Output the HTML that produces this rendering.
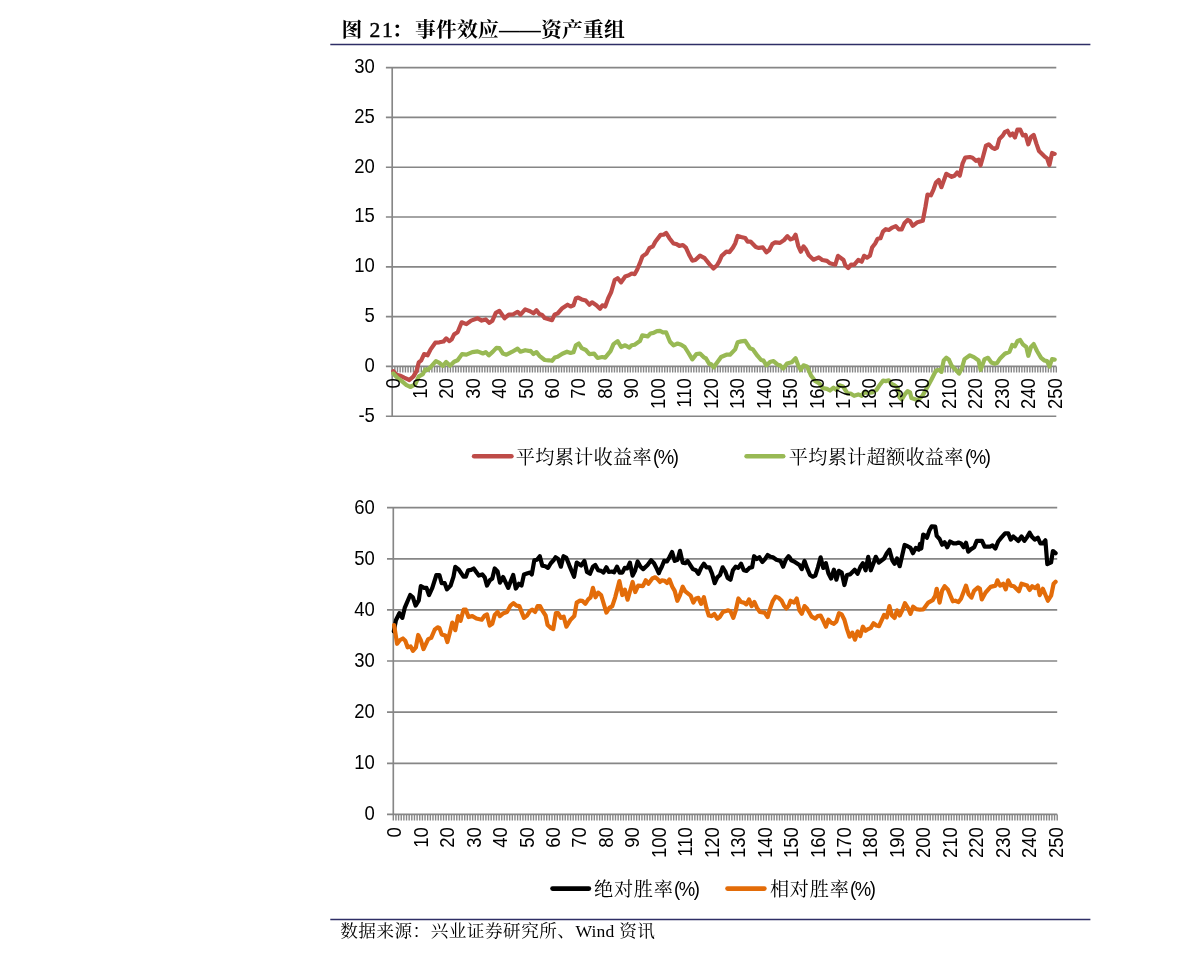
<!DOCTYPE html>
<html lang="zh-CN">
<head>
<meta charset="utf-8">
<title>图 21：事件效应——资产重组</title>
<style>
html,body{margin:0;padding:0;background:#fff;}
body{width:1191px;height:961px;position:relative;overflow:hidden;font-family:"Liberation Sans","Noto Sans CJK SC",sans-serif;color:#000;}
.title{position:absolute;left:341.6px;top:16.2px;height:28px;line-height:28px;font-family:"Liberation Serif","Noto Serif CJK SC",serif;font-weight:700;font-size:20.8px;letter-spacing:0.2px;white-space:nowrap;}
.title .n{font-weight:400;font-size:21.6px;letter-spacing:1.6px;margin-left:1.5px;-webkit-text-stroke:0.45px #000;}
.title .c{margin-left:-2.6px;margin-right:2.4px;}
.src{position:absolute;left:340.2px;top:919px;letter-spacing:0.5px;height:24px;line-height:24px;font-family:"Liberation Serif","Noto Serif CJK SC",serif;font-size:17.6px;white-space:nowrap;}
svg.charts{position:absolute;left:0;top:0;}
svg .ax text{font-family:"Liberation Sans",sans-serif;font-size:20px;fill:#000;}
.lg{position:absolute;height:26px;line-height:26px;font-family:"Liberation Serif","Noto Serif CJK SC",serif;font-size:19.2px;letter-spacing:0.25px;white-space:nowrap;}
.lg span{display:inline-block;font-family:"Liberation Sans",sans-serif;font-size:20px;letter-spacing:-1.5px;transform:scale(0.925,1);transform-origin:0 50%;margin-left:1.5px;position:relative;top:0.3px;}
.lg.l2{letter-spacing:0.75px;}
.lg.l2 span{margin-left:0.4px;}
.src .w{letter-spacing:0.2px;}
</style>
</head>
<body>
<div class="title">图 <span class="n">21</span><span class="c">：</span>事件效应——资产重组</div>
<svg class="charts" width="1191" height="961" viewBox="0 0 1191 961">
<path d="M330.3,44.55H1090.4M330.3,919.55H1090.4" stroke="#2e2e66" stroke-width="1.45" fill="none"/>
<path d="M385.9,416.2H1056.3M385.9,366.4H1056.3M385.9,316.6H1056.3M385.9,266.8H1056.3M385.9,217.0H1056.3M385.9,167.2H1056.3M385.9,117.4H1056.3M385.9,67.6H1056.3" stroke="#868686" stroke-width="1.65" fill="none"/>
<path d="M392.2,67.6V416.2" stroke="#868686" stroke-width="1.65" fill="none"/>
<path d="M392.20,366.4v6.2M394.85,366.4v6.2M397.49,366.4v6.2M400.14,366.4v6.2M402.78,366.4v6.2M405.43,366.4v6.2M408.07,366.4v6.2M410.72,366.4v6.2M413.37,366.4v6.2M416.01,366.4v6.2M418.66,366.4v6.2M421.30,366.4v6.2M423.95,366.4v6.2M426.60,366.4v6.2M429.24,366.4v6.2M431.89,366.4v6.2M434.53,366.4v6.2M437.18,366.4v6.2M439.82,366.4v6.2M442.47,366.4v6.2M445.12,366.4v6.2M447.76,366.4v6.2M450.41,366.4v6.2M453.05,366.4v6.2M455.70,366.4v6.2M458.35,366.4v6.2M460.99,366.4v6.2M463.64,366.4v6.2M466.28,366.4v6.2M468.93,366.4v6.2M471.57,366.4v6.2M474.22,366.4v6.2M476.87,366.4v6.2M479.51,366.4v6.2M482.16,366.4v6.2M484.80,366.4v6.2M487.45,366.4v6.2M490.10,366.4v6.2M492.74,366.4v6.2M495.39,366.4v6.2M498.03,366.4v6.2M500.68,366.4v6.2M503.32,366.4v6.2M505.97,366.4v6.2M508.62,366.4v6.2M511.26,366.4v6.2M513.91,366.4v6.2M516.55,366.4v6.2M519.20,366.4v6.2M521.85,366.4v6.2M524.49,366.4v6.2M527.14,366.4v6.2M529.78,366.4v6.2M532.43,366.4v6.2M535.07,366.4v6.2M537.72,366.4v6.2M540.37,366.4v6.2M543.01,366.4v6.2M545.66,366.4v6.2M548.30,366.4v6.2M550.95,366.4v6.2M553.59,366.4v6.2M556.24,366.4v6.2M558.89,366.4v6.2M561.53,366.4v6.2M564.18,366.4v6.2M566.82,366.4v6.2M569.47,366.4v6.2M572.12,366.4v6.2M574.76,366.4v6.2M577.41,366.4v6.2M580.05,366.4v6.2M582.70,366.4v6.2M585.34,366.4v6.2M587.99,366.4v6.2M590.64,366.4v6.2M593.28,366.4v6.2M595.93,366.4v6.2M598.57,366.4v6.2M601.22,366.4v6.2M603.87,366.4v6.2M606.51,366.4v6.2M609.16,366.4v6.2M611.80,366.4v6.2M614.45,366.4v6.2M617.09,366.4v6.2M619.74,366.4v6.2M622.39,366.4v6.2M625.03,366.4v6.2M627.68,366.4v6.2M630.32,366.4v6.2M632.97,366.4v6.2M635.62,366.4v6.2M638.26,366.4v6.2M640.91,366.4v6.2M643.55,366.4v6.2M646.20,366.4v6.2M648.84,366.4v6.2M651.49,366.4v6.2M654.14,366.4v6.2M656.78,366.4v6.2M659.43,366.4v6.2M662.07,366.4v6.2M664.72,366.4v6.2M667.36,366.4v6.2M670.01,366.4v6.2M672.66,366.4v6.2M675.30,366.4v6.2M677.95,366.4v6.2M680.59,366.4v6.2M683.24,366.4v6.2M685.89,366.4v6.2M688.53,366.4v6.2M691.18,366.4v6.2M693.82,366.4v6.2M696.47,366.4v6.2M699.11,366.4v6.2M701.76,366.4v6.2M704.41,366.4v6.2M707.05,366.4v6.2M709.70,366.4v6.2M712.34,366.4v6.2M714.99,366.4v6.2M717.64,366.4v6.2M720.28,366.4v6.2M722.93,366.4v6.2M725.57,366.4v6.2M728.22,366.4v6.2M730.86,366.4v6.2M733.51,366.4v6.2M736.16,366.4v6.2M738.80,366.4v6.2M741.45,366.4v6.2M744.09,366.4v6.2M746.74,366.4v6.2M749.39,366.4v6.2M752.03,366.4v6.2M754.68,366.4v6.2M757.32,366.4v6.2M759.97,366.4v6.2M762.61,366.4v6.2M765.26,366.4v6.2M767.91,366.4v6.2M770.55,366.4v6.2M773.20,366.4v6.2M775.84,366.4v6.2M778.49,366.4v6.2M781.14,366.4v6.2M783.78,366.4v6.2M786.43,366.4v6.2M789.07,366.4v6.2M791.72,366.4v6.2M794.36,366.4v6.2M797.01,366.4v6.2M799.66,366.4v6.2M802.30,366.4v6.2M804.95,366.4v6.2M807.59,366.4v6.2M810.24,366.4v6.2M812.88,366.4v6.2M815.53,366.4v6.2M818.18,366.4v6.2M820.82,366.4v6.2M823.47,366.4v6.2M826.11,366.4v6.2M828.76,366.4v6.2M831.41,366.4v6.2M834.05,366.4v6.2M836.70,366.4v6.2M839.34,366.4v6.2M841.99,366.4v6.2M844.63,366.4v6.2M847.28,366.4v6.2M849.93,366.4v6.2M852.57,366.4v6.2M855.22,366.4v6.2M857.86,366.4v6.2M860.51,366.4v6.2M863.16,366.4v6.2M865.80,366.4v6.2M868.45,366.4v6.2M871.09,366.4v6.2M873.74,366.4v6.2M876.38,366.4v6.2M879.03,366.4v6.2M881.68,366.4v6.2M884.32,366.4v6.2M886.97,366.4v6.2M889.61,366.4v6.2M892.26,366.4v6.2M894.91,366.4v6.2M897.55,366.4v6.2M900.20,366.4v6.2M902.84,366.4v6.2M905.49,366.4v6.2M908.13,366.4v6.2M910.78,366.4v6.2M913.43,366.4v6.2M916.07,366.4v6.2M918.72,366.4v6.2M921.36,366.4v6.2M924.01,366.4v6.2M926.65,366.4v6.2M929.30,366.4v6.2M931.95,366.4v6.2M934.59,366.4v6.2M937.24,366.4v6.2M939.88,366.4v6.2M942.53,366.4v6.2M945.18,366.4v6.2M947.82,366.4v6.2M950.47,366.4v6.2M953.11,366.4v6.2M955.76,366.4v6.2M958.40,366.4v6.2M961.05,366.4v6.2M963.70,366.4v6.2M966.34,366.4v6.2M968.99,366.4v6.2M971.63,366.4v6.2M974.28,366.4v6.2M976.93,366.4v6.2M979.57,366.4v6.2M982.22,366.4v6.2M984.86,366.4v6.2M987.51,366.4v6.2M990.15,366.4v6.2M992.80,366.4v6.2M995.45,366.4v6.2M998.09,366.4v6.2M1000.74,366.4v6.2M1003.38,366.4v6.2M1006.03,366.4v6.2M1008.68,366.4v6.2M1011.32,366.4v6.2M1013.97,366.4v6.2M1016.61,366.4v6.2M1019.26,366.4v6.2M1021.90,366.4v6.2M1024.55,366.4v6.2M1027.20,366.4v6.2M1029.84,366.4v6.2M1032.49,366.4v6.2M1035.13,366.4v6.2M1037.78,366.4v6.2M1040.43,366.4v6.2M1043.07,366.4v6.2M1045.72,366.4v6.2M1048.36,366.4v6.2M1051.01,366.4v6.2M1053.65,366.4v6.2M1056.30,366.4v6.2" stroke="#868686" stroke-width="1.4" fill="none"/>
<g class="ax" text-anchor="end">
<text transform="translate(374.9,421.6) scale(0.925,1)">-5</text>
<text transform="translate(374.9,371.8) scale(0.925,1)">0</text>
<text transform="translate(374.9,322.0) scale(0.925,1)">5</text>
<text transform="translate(374.9,272.2) scale(0.925,1)">10</text>
<text transform="translate(374.9,222.4) scale(0.925,1)">15</text>
<text transform="translate(374.9,172.6) scale(0.925,1)">20</text>
<text transform="translate(374.9,122.8) scale(0.925,1)">25</text>
<text transform="translate(374.9,73.0) scale(0.925,1)">30</text>
</g>
<path d="M393.3,371.1 L396.5,374.9 L400.6,375.8 L404.1,377.6 L409.4,380.0 L413.5,376.4 L416.5,371.1 L418.8,362.3 L421.2,360.3 L424.1,354.1 L427.6,355.3 L430.6,349.4 L435.3,342.7 L439.4,342.3 L443.5,341.5 L446.2,338.4 L449.4,341.1 L451.7,339.4 L454.1,334.4 L457.6,332.3 L461.7,322.3 L466.4,324.1 L471.1,320.6 L477.6,318.2 L481.7,320.6 L485.8,319.4 L489.4,322.9 L492.3,320.8 L495.8,312.9 L499.4,310.9 L504.6,318.2 L508.8,314.7 L512.9,314.5 L517.6,311.8 L520.5,314.7 L525.2,309.4 L530.0,311.2 L533.5,313.3 L536.5,310.2 L539.4,314.1 L541.8,314.7 L544.7,318.0 L548.8,319.2 L552.0,320.2 L554.7,314.4 L557.6,313.5 L562.3,308.2 L567.6,304.7 L570.6,306.5 L573.5,305.3 L575.9,298.2 L578.2,297.6 L581.7,299.4 L585.8,300.6 L589.4,304.7 L592.0,302.3 L596.4,305.3 L600.0,308.8 L602.3,305.3 L605.2,306.5 L608.2,298.2 L611.1,292.3 L614.7,280.0 L617.6,278.2 L621.1,282.3 L625.2,276.5 L628.8,275.3 L631.7,273.5 L634.6,274.1 L637.0,270.0 L640.0,262.9 L642.4,256.4 L646.5,253.5 L649.4,248.2 L652.9,246.4 L655.3,241.7 L660.6,234.9 L663.5,234.7 L666.1,232.9 L669.4,238.2 L673.5,243.5 L676.5,244.1 L679.4,245.9 L682.9,245.0 L685.9,247.6 L689.4,255.3 L692.3,260.6 L695.3,260.0 L700.0,255.6 L704.7,258.2 L709.4,264.1 L713.5,268.5 L717.0,265.3 L719.4,261.1 L721.7,255.8 L726.4,251.7 L729.4,252.1 L732.9,247.6 L735.2,243.5 L737.6,235.9 L741.1,237.0 L745.2,238.0 L747.6,241.7 L750.5,241.5 L755.8,247.0 L758.8,247.9 L762.9,247.4 L766.4,252.3 L769.3,250.0 L772.3,244.1 L775.2,242.3 L780.0,242.9 L784.1,240.0 L787.4,236.2 L790.6,239.4 L793.5,238.2 L795.6,234.7 L798.2,245.8 L800.8,251.7 L803.5,246.4 L805.9,249.4 L808.8,255.3 L813.5,259.7 L818.8,257.4 L822.3,260.0 L827.0,260.9 L830.0,263.3 L835.3,264.7 L838.0,255.8 L843.5,260.0 L845.3,265.2 L848.2,268.0 L851.1,264.7 L854.1,264.9 L858.2,260.0 L861.7,261.7 L864.1,255.8 L867.0,257.6 L869.9,255.8 L872.1,247.6 L875.2,243.5 L877.6,238.8 L880.5,238.2 L882.9,231.7 L885.8,229.2 L888.8,230.0 L892.3,227.6 L895.8,226.1 L898.8,229.4 L901.7,229.4 L904.6,222.9 L907.6,220.0 L910.0,221.2 L912.8,225.8 L917.5,222.2 L922.8,220.8 L925.5,206.7 L927.5,194.6 L930.9,195.3 L933.6,189.3 L936.0,182.5 L938.7,179.9 L941.4,187.2 L946.3,173.8 L951.7,176.9 L954.4,175.8 L957.1,172.5 L959.8,175.6 L962.5,163.7 L965.2,157.7 L969.9,157.0 L972.5,157.7 L975.9,160.8 L978.6,159.7 L980.6,165.3 L983.3,155.7 L986.0,145.6 L988.7,144.3 L992.0,147.6 L994.7,149.0 L997.0,147.6 L999.4,138.9 L1002.8,135.5 L1004.8,132.2 L1007.5,130.8 L1010.2,135.5 L1012.6,133.5 L1014.9,137.5 L1017.5,129.5 L1020.2,129.5 L1022.9,135.5 L1025.6,134.9 L1028.3,144.3 L1031.0,136.9 L1033.7,134.9 L1036.4,143.6 L1039.0,151.0 L1044.4,156.3 L1047.1,158.4 L1049.4,165.1 L1052.1,153.0 L1054.7,153.9" stroke="#BE4B48" stroke-width="4.2" fill="none" stroke-linejoin="round" stroke-linecap="round"/>
<path d="M393.3,373.5 L397.1,377.6 L401.8,381.1 L406.5,385.2 L410.6,387.0 L415.3,384.1 L418.8,376.4 L422.9,374.1 L425.3,369.4 L427.6,370.0 L431.2,366.4 L435.9,361.1 L439.4,362.9 L442.9,365.8 L446.2,362.0 L450.0,365.8 L454.1,361.7 L457.6,360.3 L462.0,354.1 L466.4,354.7 L472.3,352.1 L477.6,351.4 L482.9,353.5 L485.8,352.1 L488.8,355.3 L492.9,351.7 L496.4,347.9 L499.4,348.2 L502.9,353.5 L506.4,354.7 L512.3,351.7 L517.6,348.6 L520.5,351.7 L525.2,350.2 L530.0,351.1 L530.6,350.9 L533.5,354.1 L536.5,352.1 L539.4,355.8 L544.7,360.0 L548.8,360.3 L552.0,360.8 L554.7,357.6 L557.6,356.8 L562.3,353.7 L567.0,351.7 L570.6,352.9 L573.5,352.3 L575.9,345.3 L578.8,343.5 L581.7,348.2 L585.8,350.0 L589.4,354.1 L594.1,353.7 L597.6,358.0 L602.3,357.0 L605.2,357.6 L610.5,351.1 L613.5,344.1 L617.6,341.1 L621.1,347.0 L625.2,345.3 L629.4,347.6 L631.7,345.3 L634.6,344.7 L639.9,341.1 L642.3,335.3 L647.6,336.4 L650.5,333.5 L653.5,332.9 L657.0,331.1 L660.0,330.9 L662.9,332.3 L666.1,332.3 L670.0,341.7 L673.5,345.3 L677.6,343.5 L681.2,344.7 L684.7,347.0 L688.8,353.5 L692.3,359.4 L696.4,354.1 L700.0,353.5 L704.1,357.6 L705.8,358.2 L709.4,364.1 L711.1,364.1 L713.8,367.3 L716.4,363.5 L721.1,357.0 L726.4,354.7 L730.0,354.7 L735.2,349.4 L737.6,342.3 L741.1,341.4 L745.2,340.9 L749.9,348.2 L752.9,349.4 L757.6,355.9 L761.1,360.0 L763.5,360.6 L766.4,365.3 L770.5,361.7 L773.5,361.1 L777.6,364.7 L780.0,365.3 L783.2,368.6 L787.0,363.5 L791.8,362.3 L795.6,358.2 L798.2,365.3 L800.8,370.0 L803.5,365.3 L807.0,366.4 L811.2,375.8 L814.7,380.6 L819.4,383.5 L822.9,388.2 L827.0,388.8 L830.0,390.5 L833.5,387.6 L836.4,390.0 L839.4,385.3 L842.9,386.4 L847.6,393.5 L850.5,393.5 L854.1,395.8 L858.2,394.4 L861.7,395.8 L864.1,392.3 L867.6,392.9 L872.3,392.3 L876.4,390.0 L879.9,384.7 L883.1,380.6 L885.8,381.1 L888.8,380.3 L891.1,383.5 L894.6,385.3 L897.6,387.6 L899.3,397.0 L901.7,399.6 L904.6,394.7 L907.6,391.1 L910.0,392.3 L911.4,398.1 L917.5,400.1 L922.2,396.1 L926.9,388.0 L931.6,379.3 L936.0,370.5 L939.0,369.9 L941.4,371.9 L943.7,360.5 L946.3,357.8 L949.0,359.8 L951.7,365.8 L955.8,369.9 L959.1,373.6 L961.8,368.5 L964.5,359.1 L969.9,355.3 L973.9,357.1 L978.6,360.5 L980.6,369.9 L984.6,359.1 L988.0,357.8 L991.4,362.5 L994.7,363.8 L997.0,363.1 L1000.1,358.4 L1004.8,353.7 L1009.5,351.7 L1012.2,345.0 L1014.9,346.3 L1017.5,341.0 L1020.2,340.0 L1022.9,344.3 L1026.3,347.0 L1028.3,355.8 L1031.0,347.0 L1033.7,344.1 L1037.0,351.0 L1041.1,357.8 L1044.4,360.5 L1047.1,361.1 L1049.4,366.5 L1052.1,359.1 L1054.7,359.6" stroke="#98B954" stroke-width="4.2" fill="none" stroke-linejoin="round" stroke-linecap="round"/>
<g class="ax"><text transform="translate(400.22,378.2) rotate(-90) scale(0.925,1)" text-anchor="end">0</text><text transform="translate(426.68,378.2) rotate(-90) scale(0.925,1)" text-anchor="end">10</text><text transform="translate(453.14,378.2) rotate(-90) scale(0.925,1)" text-anchor="end">20</text><text transform="translate(479.60,378.2) rotate(-90) scale(0.925,1)" text-anchor="end">30</text><text transform="translate(506.06,378.2) rotate(-90) scale(0.925,1)" text-anchor="end">40</text><text transform="translate(532.51,378.2) rotate(-90) scale(0.925,1)" text-anchor="end">50</text><text transform="translate(558.97,378.2) rotate(-90) scale(0.925,1)" text-anchor="end">60</text><text transform="translate(585.43,378.2) rotate(-90) scale(0.925,1)" text-anchor="end">70</text><text transform="translate(611.89,378.2) rotate(-90) scale(0.925,1)" text-anchor="end">80</text><text transform="translate(638.35,378.2) rotate(-90) scale(0.925,1)" text-anchor="end">90</text><text transform="translate(664.80,378.2) rotate(-90) scale(0.925,1)" text-anchor="end">100</text><text transform="translate(691.26,378.2) rotate(-90) scale(0.925,1)" text-anchor="end">110</text><text transform="translate(717.72,378.2) rotate(-90) scale(0.925,1)" text-anchor="end">120</text><text transform="translate(744.18,378.2) rotate(-90) scale(0.925,1)" text-anchor="end">130</text><text transform="translate(770.64,378.2) rotate(-90) scale(0.925,1)" text-anchor="end">140</text><text transform="translate(797.10,378.2) rotate(-90) scale(0.925,1)" text-anchor="end">150</text><text transform="translate(823.55,378.2) rotate(-90) scale(0.925,1)" text-anchor="end">160</text><text transform="translate(850.01,378.2) rotate(-90) scale(0.925,1)" text-anchor="end">170</text><text transform="translate(876.47,378.2) rotate(-90) scale(0.925,1)" text-anchor="end">180</text><text transform="translate(902.93,378.2) rotate(-90) scale(0.925,1)" text-anchor="end">190</text><text transform="translate(929.39,378.2) rotate(-90) scale(0.925,1)" text-anchor="end">200</text><text transform="translate(955.84,378.2) rotate(-90) scale(0.925,1)" text-anchor="end">210</text><text transform="translate(982.30,378.2) rotate(-90) scale(0.925,1)" text-anchor="end">220</text><text transform="translate(1008.76,378.2) rotate(-90) scale(0.925,1)" text-anchor="end">230</text><text transform="translate(1035.22,378.2) rotate(-90) scale(0.925,1)" text-anchor="end">240</text><text transform="translate(1061.68,378.2) rotate(-90) scale(0.925,1)" text-anchor="end">250</text></g>
<path d="M387.0,814.4H1057.2M387.0,763.3H1057.2M387.0,712.1H1057.2M387.0,661.0H1057.2M387.0,609.9H1057.2M387.0,558.8H1057.2M387.0,507.6H1057.2" stroke="#868686" stroke-width="1.65" fill="none"/>
<path d="M393.3,507.6V814.4" stroke="#868686" stroke-width="1.65" fill="none"/>
<path d="M393.30,814.4v6.2M395.95,814.4v6.2M398.59,814.4v6.2M401.24,814.4v6.2M403.88,814.4v6.2M406.53,814.4v6.2M409.17,814.4v6.2M411.82,814.4v6.2M414.46,814.4v6.2M417.11,814.4v6.2M419.75,814.4v6.2M422.40,814.4v6.2M425.04,814.4v6.2M427.69,814.4v6.2M430.33,814.4v6.2M432.98,814.4v6.2M435.62,814.4v6.2M438.27,814.4v6.2M440.91,814.4v6.2M443.56,814.4v6.2M446.20,814.4v6.2M448.85,814.4v6.2M451.49,814.4v6.2M454.14,814.4v6.2M456.78,814.4v6.2M459.43,814.4v6.2M462.07,814.4v6.2M464.72,814.4v6.2M467.36,814.4v6.2M470.01,814.4v6.2M472.65,814.4v6.2M475.30,814.4v6.2M477.94,814.4v6.2M480.59,814.4v6.2M483.23,814.4v6.2M485.88,814.4v6.2M488.52,814.4v6.2M491.17,814.4v6.2M493.81,814.4v6.2M496.46,814.4v6.2M499.10,814.4v6.2M501.75,814.4v6.2M504.39,814.4v6.2M507.04,814.4v6.2M509.68,814.4v6.2M512.33,814.4v6.2M514.97,814.4v6.2M517.62,814.4v6.2M520.26,814.4v6.2M522.91,814.4v6.2M525.55,814.4v6.2M528.20,814.4v6.2M530.84,814.4v6.2M533.49,814.4v6.2M536.13,814.4v6.2M538.78,814.4v6.2M541.42,814.4v6.2M544.07,814.4v6.2M546.71,814.4v6.2M549.36,814.4v6.2M552.00,814.4v6.2M554.65,814.4v6.2M557.29,814.4v6.2M559.94,814.4v6.2M562.58,814.4v6.2M565.23,814.4v6.2M567.87,814.4v6.2M570.52,814.4v6.2M573.16,814.4v6.2M575.81,814.4v6.2M578.45,814.4v6.2M581.10,814.4v6.2M583.74,814.4v6.2M586.39,814.4v6.2M589.03,814.4v6.2M591.68,814.4v6.2M594.32,814.4v6.2M596.97,814.4v6.2M599.61,814.4v6.2M602.26,814.4v6.2M604.90,814.4v6.2M607.55,814.4v6.2M610.19,814.4v6.2M612.84,814.4v6.2M615.48,814.4v6.2M618.13,814.4v6.2M620.77,814.4v6.2M623.42,814.4v6.2M626.06,814.4v6.2M628.71,814.4v6.2M631.35,814.4v6.2M634.00,814.4v6.2M636.64,814.4v6.2M639.29,814.4v6.2M641.93,814.4v6.2M644.58,814.4v6.2M647.22,814.4v6.2M649.87,814.4v6.2M652.51,814.4v6.2M655.16,814.4v6.2M657.80,814.4v6.2M660.45,814.4v6.2M663.09,814.4v6.2M665.74,814.4v6.2M668.38,814.4v6.2M671.03,814.4v6.2M673.67,814.4v6.2M676.32,814.4v6.2M678.96,814.4v6.2M681.61,814.4v6.2M684.25,814.4v6.2M686.90,814.4v6.2M689.54,814.4v6.2M692.19,814.4v6.2M694.83,814.4v6.2M697.48,814.4v6.2M700.12,814.4v6.2M702.77,814.4v6.2M705.41,814.4v6.2M708.06,814.4v6.2M710.70,814.4v6.2M713.35,814.4v6.2M715.99,814.4v6.2M718.64,814.4v6.2M721.28,814.4v6.2M723.93,814.4v6.2M726.57,814.4v6.2M729.22,814.4v6.2M731.86,814.4v6.2M734.51,814.4v6.2M737.15,814.4v6.2M739.80,814.4v6.2M742.44,814.4v6.2M745.09,814.4v6.2M747.73,814.4v6.2M750.38,814.4v6.2M753.02,814.4v6.2M755.67,814.4v6.2M758.31,814.4v6.2M760.96,814.4v6.2M763.60,814.4v6.2M766.25,814.4v6.2M768.89,814.4v6.2M771.54,814.4v6.2M774.18,814.4v6.2M776.83,814.4v6.2M779.47,814.4v6.2M782.12,814.4v6.2M784.76,814.4v6.2M787.41,814.4v6.2M790.05,814.4v6.2M792.70,814.4v6.2M795.34,814.4v6.2M797.99,814.4v6.2M800.63,814.4v6.2M803.28,814.4v6.2M805.92,814.4v6.2M808.57,814.4v6.2M811.21,814.4v6.2M813.86,814.4v6.2M816.50,814.4v6.2M819.15,814.4v6.2M821.79,814.4v6.2M824.44,814.4v6.2M827.08,814.4v6.2M829.73,814.4v6.2M832.37,814.4v6.2M835.02,814.4v6.2M837.66,814.4v6.2M840.31,814.4v6.2M842.95,814.4v6.2M845.60,814.4v6.2M848.24,814.4v6.2M850.89,814.4v6.2M853.53,814.4v6.2M856.18,814.4v6.2M858.82,814.4v6.2M861.47,814.4v6.2M864.11,814.4v6.2M866.76,814.4v6.2M869.40,814.4v6.2M872.05,814.4v6.2M874.69,814.4v6.2M877.34,814.4v6.2M879.98,814.4v6.2M882.63,814.4v6.2M885.27,814.4v6.2M887.92,814.4v6.2M890.56,814.4v6.2M893.21,814.4v6.2M895.85,814.4v6.2M898.50,814.4v6.2M901.14,814.4v6.2M903.79,814.4v6.2M906.43,814.4v6.2M909.08,814.4v6.2M911.72,814.4v6.2M914.37,814.4v6.2M917.01,814.4v6.2M919.66,814.4v6.2M922.30,814.4v6.2M924.95,814.4v6.2M927.59,814.4v6.2M930.24,814.4v6.2M932.88,814.4v6.2M935.53,814.4v6.2M938.17,814.4v6.2M940.82,814.4v6.2M943.46,814.4v6.2M946.11,814.4v6.2M948.75,814.4v6.2M951.40,814.4v6.2M954.04,814.4v6.2M956.69,814.4v6.2M959.33,814.4v6.2M961.98,814.4v6.2M964.62,814.4v6.2M967.27,814.4v6.2M969.91,814.4v6.2M972.56,814.4v6.2M975.20,814.4v6.2M977.85,814.4v6.2M980.49,814.4v6.2M983.14,814.4v6.2M985.78,814.4v6.2M988.43,814.4v6.2M991.07,814.4v6.2M993.72,814.4v6.2M996.36,814.4v6.2M999.01,814.4v6.2M1001.65,814.4v6.2M1004.30,814.4v6.2M1006.94,814.4v6.2M1009.59,814.4v6.2M1012.23,814.4v6.2M1014.88,814.4v6.2M1017.52,814.4v6.2M1020.17,814.4v6.2M1022.81,814.4v6.2M1025.46,814.4v6.2M1028.10,814.4v6.2M1030.75,814.4v6.2M1033.39,814.4v6.2M1036.04,814.4v6.2M1038.68,814.4v6.2M1041.33,814.4v6.2M1043.97,814.4v6.2M1046.62,814.4v6.2M1049.26,814.4v6.2M1051.91,814.4v6.2M1054.55,814.4v6.2M1057.20,814.4v6.2" stroke="#868686" stroke-width="1.4" fill="none"/>
<g class="ax" text-anchor="end">
<text transform="translate(374.9,820.3) scale(0.925,1)">0</text>
<text transform="translate(374.9,769.2) scale(0.925,1)">10</text>
<text transform="translate(374.9,718.0) scale(0.925,1)">20</text>
<text transform="translate(374.9,666.9) scale(0.925,1)">30</text>
<text transform="translate(374.9,615.8) scale(0.925,1)">40</text>
<text transform="translate(374.9,564.6) scale(0.925,1)">50</text>
<text transform="translate(374.9,513.5) scale(0.925,1)">60</text>
</g>
<path d="M393.8,631.4 L395.9,620.3 L399.4,613.2 L402.3,617.9 L404.7,607.9 L410.2,595.0 L412.9,597.3 L415.6,605.6 L418.8,600.3 L420.8,586.2 L424.1,587.9 L426.5,587.9 L429.0,595.0 L432.3,587.9 L436.4,575.0 L439.4,575.0 L441.7,583.2 L444.7,583.2 L447.0,589.4 L450.6,585.6 L453.5,576.7 L455.3,566.8 L458.8,569.7 L463.5,576.7 L465.8,576.7 L468.2,570.3 L471.1,569.9 L473.7,568.5 L478.8,575.6 L482.3,574.4 L484.7,577.3 L487.0,585.6 L489.9,580.3 L492.3,578.5 L494.7,568.5 L497.6,571.5 L499.9,582.6 L503.1,577.0 L508.2,587.9 L511.1,580.3 L513.2,575.0 L515.8,588.5 L518.8,583.8 L521.5,585.6 L524.0,574.4 L527.6,573.2 L530.0,572.6 L531.8,574.4 L534.3,560.3 L537.0,559.7 L539.8,556.2 L542.3,565.6 L545.3,566.2 L548.0,567.9 L550.8,563.2 L553.5,560.3 L555.5,557.3 L558.2,559.1 L560.9,566.7 L563.5,556.2 L566.4,557.9 L569.4,565.6 L574.1,576.7 L576.7,562.6 L581.1,565.6 L584.4,560.9 L587.0,572.0 L590.0,573.8 L592.9,566.7 L595.3,565.0 L598.2,570.3 L601.1,570.9 L603.5,572.6 L606.4,567.3 L608.8,572.0 L611.7,571.5 L614.1,572.4 L617.0,566.7 L619.7,572.6 L622.3,572.6 L624.7,567.9 L627.2,568.5 L629.9,562.6 L632.6,575.6 L635.0,570.9 L637.6,561.5 L640.5,566.7 L643.2,569.1 L647.6,565.0 L651.1,560.3 L654.0,563.2 L657.0,569.1 L658.8,573.2 L660.0,570.3 L661.8,566.7 L664.1,560.9 L667.0,561.5 L669.4,557.3 L672.1,552.0 L674.7,560.9 L677.6,559.7 L680.0,550.9 L682.7,562.6 L685.3,563.2 L687.6,560.9 L690.6,565.6 L692.9,569.1 L695.9,570.3 L698.4,573.8 L701.1,567.9 L703.9,563.8 L706.4,567.3 L709.4,567.3 L712.1,573.8 L714.7,583.2 L717.3,577.3 L720.0,575.0 L722.7,567.3 L725.3,571.5 L727.6,577.9 L730.5,579.7 L732.9,570.3 L735.6,566.7 L738.2,567.9 L741.1,563.8 L743.8,570.3 L746.4,570.9 L749.4,567.9 L752.1,567.3 L754.1,556.2 L756.8,559.1 L759.4,557.3 L762.3,562.0 L765.0,559.1 L767.6,555.0 L770.5,556.8 L772.9,557.3 L776.4,559.7 L780.5,560.9 L783.1,566.7 L785.8,559.7 L788.5,556.2 L790.0,557.9 L791.2,560.3 L794.1,561.5 L799.4,565.0 L801.8,569.1 L804.5,560.9 L807.0,567.9 L810.0,575.0 L812.7,576.7 L815.3,575.6 L817.9,567.3 L820.6,557.3 L823.3,567.9 L825.9,563.2 L828.4,573.2 L831.1,578.5 L833.9,569.7 L836.4,579.7 L838.8,570.9 L841.7,572.6 L844.4,585.0 L847.0,575.0 L850.0,574.4 L854.7,569.7 L857.6,573.8 L860.5,566.7 L862.9,563.2 L865.6,570.3 L868.2,556.8 L870.8,570.3 L873.5,563.2 L875.8,556.8 L878.8,562.6 L884.1,558.5 L886.8,553.2 L889.4,549.7 L892.3,560.3 L894.6,563.8 L897.0,558.5 L899.7,566.2 L902.3,555.0 L904.6,545.0 L907.6,546.2 L910.5,547.9 L912.9,553.2 L915.8,547.9 L918.8,549.7 L920.0,543.8 L921.3,548.5 L923.2,534.6 L925.7,535.9 L927.0,537.7 L929.5,530.2 L931.7,526.4 L935.2,526.7 L936.7,535.9 L939.6,539.0 L942.1,544.7 L944.6,542.2 L947.2,547.2 L950.1,541.5 L953.5,543.4 L956.0,543.4 L958.5,542.5 L961.0,543.4 L963.5,547.2 L966.0,542.8 L968.2,551.6 L971.1,549.1 L974.2,547.2 L976.8,540.9 L982.0,540.9 L984.6,546.6 L990.0,546.6 L992.5,545.3 L995.4,548.5 L998.2,541.5 L1001.3,537.7 L1005.1,533.3 L1008.2,533.3 L1010.8,539.6 L1013.3,536.5 L1018.3,540.9 L1021.5,536.5 L1024.4,540.9 L1027.1,537.1 L1029.6,532.7 L1032.2,537.1 L1034.7,539.6 L1037.8,537.7 L1040.4,543.4 L1042.9,543.4 L1045.4,540.3 L1047.3,564.2 L1051.1,562.3 L1052.9,551.0 L1055.6,553.2" stroke="#000" stroke-width="4.2" fill="none" stroke-linejoin="round" stroke-linecap="round"/>
<path d="M394.1,625.0 L397.1,643.8 L400.0,640.0 L402.9,638.5 L405.3,640.8 L407.6,647.3 L410.6,646.4 L412.9,650.8 L415.9,647.3 L418.2,635.0 L420.8,640.2 L423.5,649.1 L428.2,639.1 L431.2,637.9 L434.7,629.7 L437.6,627.3 L439.4,627.9 L441.7,634.4 L445.3,635.5 L447.4,642.0 L450.0,632.0 L452.3,622.6 L455.3,630.2 L458.0,616.1 L460.6,620.8 L463.5,609.7 L465.8,609.7 L468.5,617.0 L472.3,616.1 L476.4,618.5 L481.7,619.7 L484.7,615.6 L487.0,614.4 L489.7,625.5 L492.3,623.8 L494.7,615.0 L497.6,612.0 L499.9,616.1 L503.5,613.2 L507.0,612.0 L510.5,605.6 L513.5,603.2 L516.4,605.6 L519.3,606.1 L524.0,617.9 L527.0,615.6 L530.0,610.8 L532.3,609.7 L535.1,612.0 L537.6,606.1 L540.0,606.1 L542.9,611.4 L545.6,615.5 L547.6,625.0 L550.8,627.9 L553.2,629.1 L555.9,613.2 L558.2,613.2 L560.9,617.9 L563.7,616.7 L566.4,626.7 L570.6,619.7 L574.3,616.1 L576.7,602.6 L580.0,600.6 L582.3,600.8 L585.3,603.8 L588.2,599.4 L590.6,597.3 L592.9,587.9 L595.5,597.3 L598.2,592.6 L601.1,595.0 L606.4,612.6 L609.4,607.9 L612.3,606.1 L615.2,597.3 L619.4,581.1 L622.3,595.0 L624.9,589.7 L627.6,599.7 L632.6,582.0 L635.2,592.0 L638.2,585.6 L642.9,586.1 L645.8,580.3 L648.4,583.8 L652.3,578.5 L655.2,577.3 L657.6,579.1 L660.0,582.0 L661.8,580.3 L664.7,580.9 L667.0,583.0 L669.4,579.4 L672.3,586.7 L674.7,590.9 L677.3,600.8 L680.0,595.0 L682.7,586.7 L685.3,591.4 L690.6,595.6 L693.3,602.6 L695.9,598.5 L698.4,597.9 L701.1,603.8 L703.9,597.3 L706.4,607.9 L708.8,615.5 L711.7,616.1 L714.4,614.0 L717.3,618.7 L720.0,616.7 L722.9,612.0 L728.2,610.3 L730.5,611.4 L733.3,617.9 L735.8,610.3 L738.4,598.5 L741.1,602.0 L743.8,602.6 L746.4,604.4 L749.0,599.4 L751.7,606.1 L754.4,602.0 L757.0,607.9 L759.9,612.0 L764.6,612.6 L767.6,617.1 L769.9,609.1 L772.9,600.8 L775.6,596.7 L778.8,597.9 L781.7,600.8 L784.0,605.6 L786.4,608.5 L788.8,605.6 L790.0,602.0 L790.6,600.8 L794.1,602.6 L796.7,598.5 L799.4,610.3 L801.8,613.8 L804.5,606.1 L807.0,608.5 L811.7,616.7 L815.3,618.7 L817.6,616.1 L820.6,615.5 L823.3,620.8 L825.9,626.7 L828.4,619.7 L831.1,622.6 L833.9,623.8 L836.4,621.4 L839.0,613.2 L841.7,614.4 L844.4,619.7 L847.0,629.1 L849.6,636.7 L852.3,632.6 L855.0,639.7 L857.6,631.4 L860.2,636.1 L862.9,626.7 L865.6,630.8 L868.2,629.1 L870.8,627.9 L873.5,623.2 L876.4,625.5 L879.0,626.1 L881.4,620.8 L884.1,615.0 L886.8,617.3 L889.4,606.1 L891.9,615.5 L894.6,617.9 L897.0,610.3 L899.7,615.5 L902.3,610.3 L904.9,603.2 L907.9,607.9 L910.5,613.8 L913.1,606.7 L916.4,609.1 L920.0,609.7 L923.2,609.5 L928.3,602.6 L932.7,600.1 L935.2,595.7 L936.7,588.8 L939.6,602.6 L942.1,590.6 L944.6,586.2 L947.8,589.4 L952.8,601.3 L955.3,600.7 L958.5,602.0 L961.0,598.8 L966.0,585.6 L968.6,594.4 L971.5,597.6 L974.2,590.6 L978.0,587.5 L979.9,588.8 L981.8,599.5 L985.6,592.5 L990.6,586.9 L995.6,585.6 L997.5,580.3 L1000.1,585.6 L1003.2,583.7 L1005.7,589.4 L1008.2,580.3 L1010.8,585.6 L1013.9,586.2 L1018.9,591.3 L1021.5,583.7 L1027.1,585.6 L1029.6,590.0 L1032.2,586.2 L1035.3,588.1 L1037.8,585.6 L1039.7,595.1 L1042.9,588.8 L1047.9,600.7 L1051.1,595.7 L1053.6,583.7 L1055.6,581.7" stroke="#E36C09" stroke-width="4.2" fill="none" stroke-linejoin="round" stroke-linecap="round"/>
<g class="ax"><text transform="translate(401.32,827.2) rotate(-90) scale(0.925,1)" text-anchor="end">0</text><text transform="translate(427.77,827.2) rotate(-90) scale(0.925,1)" text-anchor="end">10</text><text transform="translate(454.22,827.2) rotate(-90) scale(0.925,1)" text-anchor="end">20</text><text transform="translate(480.67,827.2) rotate(-90) scale(0.925,1)" text-anchor="end">30</text><text transform="translate(507.12,827.2) rotate(-90) scale(0.925,1)" text-anchor="end">40</text><text transform="translate(533.57,827.2) rotate(-90) scale(0.925,1)" text-anchor="end">50</text><text transform="translate(560.02,827.2) rotate(-90) scale(0.925,1)" text-anchor="end">60</text><text transform="translate(586.47,827.2) rotate(-90) scale(0.925,1)" text-anchor="end">70</text><text transform="translate(612.92,827.2) rotate(-90) scale(0.925,1)" text-anchor="end">80</text><text transform="translate(639.37,827.2) rotate(-90) scale(0.925,1)" text-anchor="end">90</text><text transform="translate(665.82,827.2) rotate(-90) scale(0.925,1)" text-anchor="end">100</text><text transform="translate(692.27,827.2) rotate(-90) scale(0.925,1)" text-anchor="end">110</text><text transform="translate(718.72,827.2) rotate(-90) scale(0.925,1)" text-anchor="end">120</text><text transform="translate(745.18,827.2) rotate(-90) scale(0.925,1)" text-anchor="end">130</text><text transform="translate(771.63,827.2) rotate(-90) scale(0.925,1)" text-anchor="end">140</text><text transform="translate(798.08,827.2) rotate(-90) scale(0.925,1)" text-anchor="end">150</text><text transform="translate(824.53,827.2) rotate(-90) scale(0.925,1)" text-anchor="end">160</text><text transform="translate(850.98,827.2) rotate(-90) scale(0.925,1)" text-anchor="end">170</text><text transform="translate(877.43,827.2) rotate(-90) scale(0.925,1)" text-anchor="end">180</text><text transform="translate(903.88,827.2) rotate(-90) scale(0.925,1)" text-anchor="end">190</text><text transform="translate(930.33,827.2) rotate(-90) scale(0.925,1)" text-anchor="end">200</text><text transform="translate(956.78,827.2) rotate(-90) scale(0.925,1)" text-anchor="end">210</text><text transform="translate(983.23,827.2) rotate(-90) scale(0.925,1)" text-anchor="end">220</text><text transform="translate(1009.68,827.2) rotate(-90) scale(0.925,1)" text-anchor="end">230</text><text transform="translate(1036.13,827.2) rotate(-90) scale(0.925,1)" text-anchor="end">240</text><text transform="translate(1062.58,827.2) rotate(-90) scale(0.925,1)" text-anchor="end">250</text></g>
<path d="M474.1,456.2H511.4" stroke="#BE4B48" stroke-width="4.6" stroke-linecap="round"/>
<path d="M746.6,456.2H783.2" stroke="#98B954" stroke-width="4.6" stroke-linecap="round"/>
<path d="M552.5,888.6H588.9" stroke="#000" stroke-width="4.6" stroke-linecap="round"/>
<path d="M727.5,888.6H764.4" stroke="#E36C09" stroke-width="4.6" stroke-linecap="round"/>
</svg>
<div class="lg" style="left:515.8px;top:444px;">平均累计收益率<span>(%)</span></div>
<div class="lg" style="left:788.8px;top:444px;">平均累计超额收益率<span>(%)</span></div>
<div class="lg l2" style="left:594px;top:876px;">绝对胜率<span>(%)</span></div>
<div class="lg l2" style="left:769.9px;top:876px;">相对胜率<span>(%)</span></div>
<div class="src">数据来源：兴业证券研究所、<span class="w">Wind </span>资讯</div>
</body>
</html>
